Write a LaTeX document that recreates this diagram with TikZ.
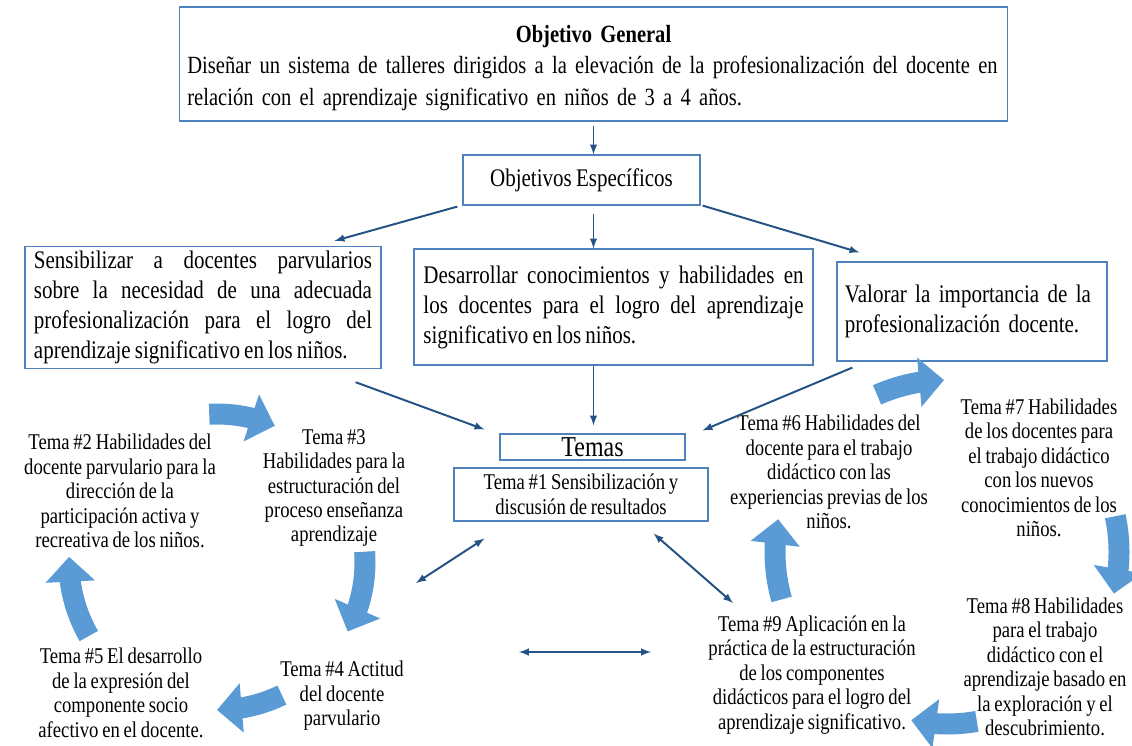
\documentclass[tikz,border=0pt]{standalone}
\usepackage{fontspec}
\setmainfont{Liberation Serif}[FakeStretch=0.83, WordSpace=0.8]
\usepackage{tikz}
\usetikzlibrary{
  calc,
  positioning,
  arrows,
  arrows.meta,
  bending
}
\tikzset{>=latex}
\definecolor{bordeazul}{RGB}{79,129,189}
\definecolor{flechaazul}{RGB}{37,82,133}
\definecolor{cicloazul}{RGB}{91,155,213}
\newcommand{\textocaja}{\fontsize{18}{21.3}\selectfont}
\newcommand{\textotema}{\fontsize{16}{17.4}\selectfont}
\tikzset{
  caja/.style={draw=bordeazul, line width=0.8pt, font=\textocaja},
  conector/.style={draw=flechaazul, line width=1.4pt},
  ciclo/.style={draw=cicloazul, line width=0.525cm, -{Triangle[width=1.2cm,length=0.62cm]}},
  tema/.style={align=center, font=\textotema, inner sep=0pt}
}

\begin{document}
\begin{tikzpicture}[x=0.025cm, y=-0.025cm]
			\useasboundingbox (0,0) rectangle (1132,745);

			\node[caja, minimum width=20.7cm, minimum height=2.85cm, text width=20.3cm, align=left, inner xsep=0pt, font=\fontsize{17.6}{22.6}\selectfont] (general) at (593.5,64) {\rule{0pt}{18pt}\makebox[\linewidth]{\textbf{Objetivo General}}\\ \mbox{Diseñar un sistema de talleres dirigidos a la elevación de la profesionalización del docente en}\\ relación con el aprendizaje significativo en niños de 3 a 4 años.};
			\node[caja, minimum width=5.925cm, minimum height=1.25cm] (especificos) at (581.5,180) {Objetivos Específicos};

			\node[caja, minimum width=8.9cm, minimum height=2.775cm, text width=8.45cm, align=justify, inner xsep=0pt] (sensibilizar) at (203,307.5) {Sensibilizar a docentes parvularios\linebreak sobre la necesidad de una adecuada\linebreak profesionalización para el logro del\linebreak aprendizaje significativo en los niños.};
			\node[caja, minimum width=9.975cm, minimum height=2.9cm, text width=9.5cm, align=justify, inner xsep=0pt] (desarrollar) at (613.5,307) {Desarrollar conocimientos y habilidades en\linebreak los docentes para el logro del aprendizaje\linebreak significativo en los niños.};
			\node[caja, minimum width=6.75cm, minimum height=2.475cm, text width=6.35cm, align=left, inner xsep=0pt] (valorar) at (972,311.5) {Valorar la importancia de la\\ profesionalización docente.};

			\node[caja, minimum width=4.625cm, minimum height=0.65cm, inner sep=0pt, font=\fontsize{20.5}{22}\selectfont] (temas) at (592.5,447) {Temas};
			\node[caja, minimum width=6.35cm, minimum height=1.325cm, align=center, font=\textotema] (uno) at (581,494.5) {Tema \#1 Sensibilización y\\ discusión de resultados};

			\node[tema] (dos) at (120,491) {Tema \#2 Habilidades del\\ docente parvulario para la\\ dirección de la\\ participación activa y\\ recreativa de los niños.};
			\node[tema] (tres) at (334,488) {Tema \#3\\ Habilidades para la\\ estructuración del\\ proceso enseñanza\\ aprendizaje};
			\node[tema] (cuatro) at (342,696) {Tema \#4 Actitud\\ del docente\\ parvulario};
			\node[tema] (cinco) at (121,693) {Tema \#5 El desarrollo\\ de la expresión del\\ componente socio\\ afectivo en el docente.};
			\node[tema] (seis) at (829,472) {Tema \#6 Habilidades del\\ docente para el trabajo\\ didáctico con las\\ experiencias previas de los\\ niños.};
			\node[tema] (siete) at (1039,468) {Tema \#7 Habilidades\\ de los docentes para\\ el trabajo didáctico\\ con los nuevos\\ conocimientos de los\\ niños.};
			\node[tema] (ocho) at (1045,667) {Tema \#8 Habilidades\\ para el trabajo\\ didáctico con el\\ aprendizaje basado en\\ la exploración y el\\ descubrimiento.};
			\node[tema] (nueve) at (812,675) {Tema \#9 Aplicación en la\\ práctica de la estructuración\\ de los componentes\\ didácticos para el logro del\\ aprendizaje significativo.};

			\draw[conector, ->] ($(general.south)+(0,4)$) -- (general.south |- especificos.north);
			\draw[conector, ->] ($(especificos.south west)+(-5,1)$) -- ($(sensibilizar.north east)+(-47,-5)$);
			\draw[conector, ->] ($(general.south |- especificos.south)+(0,8)$) -- (general.south |- desarrollar.north);
			\draw[conector, ->] ($(especificos.south east)+(2,0)$) -- ($(valorar.north west)+(23,-9)$);

			\draw[conector, ->] ($(sensibilizar.south east)+(-26,13)$) -- ($(temas.north west)+(-15,-4)$);
			\draw[conector, ->] (general.south |- desarrollar.south) -- ($(general.south |- temas.north)+(0,-8)$);
			\draw[conector, ->] ($(valorar.south west)+(16,6)$) -- ($(temas.north east)+(17,-3)$);

			\coordinate (izq) at (416,583);
			\coordinate (der) at (733,603);
			\coordinate (medioizq) at (519,652);
			\coordinate (medioder) at (651,652);
			\draw[conector, <->] ($(uno.south west)+(31,17)$) -- (izq);
			\draw[conector, <->] ($(uno.south east)+(-55,12)$) -- (der);
			\draw[conector, <->] (medioizq) -- (medioder);

			\coordinate (cicloizq) at (217,562);
			\coordinate (cicloder) at (947,552);
			\draw[ciclo] ($(cicloizq)+(-93:148)$) arc[start angle=-93, end angle=-67, radius=148];
			\draw[ciclo] ($(cicloizq)+(-4:148)$) arc[start angle=-4, end angle=28, radius=148];
			\draw[ciclo] ($(cicloizq)+(64:148)$) arc[start angle=64, end angle=90, radius=148];
			\draw[ciclo] ($(cicloizq)+(150:148)$) arc[start angle=150, end angle=182, radius=148];
			\draw[ciclo] ($(cicloder)+(-114:172)$) arc[start angle=-114, end angle=-91, radius=172];
			\draw[ciclo] ($(cicloder)+(-12:172)$) arc[start angle=-12, end angle=14, radius=172];
			\draw[ciclo] ($(cicloder)+(80:172)$) arc[start angle=80, end angle=102, radius=172];
			\draw[ciclo] ($(cicloder)+(164:172)$) arc[start angle=164, end angle=191, radius=172];
\end{tikzpicture}
\end{document}
